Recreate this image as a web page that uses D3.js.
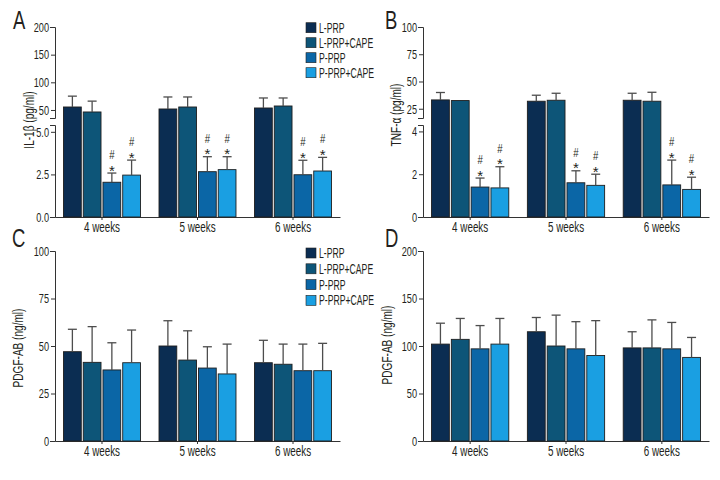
<!DOCTYPE html>
<html><head><meta charset="utf-8">
<script src="https://cdn.jsdelivr.net/npm/d3@7"></script>
<style>
body{margin:0;background:#fff;}
svg{display:block;font-family:"Liberation Sans",Arial,sans-serif;}
</style></head><body>
<svg id="chart" width="720" height="480"></svg>
<script>
const categories = ["4 weeks","5 weeks","6 weeks"];
const seriesNames = ["L-PRP","L-PRP+CAPE","P-PRP","P-PRP+CAPE"];
const seriesColors = ["#0b2d52","#0d5578","#0b66a6","#1a9fe2"];

// Panel A: IL-1β (pg/ml)
const il1bMean = [[55.4,51.8,53.6],[46.4,55.4,57.2],[2.04,2.66,2.48],[2.46,2.78,2.70]];
const il1bSD   = [[19.6,21.7,18.1],[19.6,18.1,14.5],[0.54,0.88,0.85],[0.88,0.76,0.80]];
const il1bTicksLow = [0,2.5,5];
const il1bTicksHigh = [50,100,150,200];
const il1bBreak = [5.4,35.5,200];

// Panel B: TNF-α (pg/ml)
const tnfMean = [[33.1,31.9,32.8],[32.5,32.8,31.9],[1.40,1.60,1.50],[1.36,1.48,1.29]];
const tnfSD   = [[6.8,5.5,6.4],[0,6.4,8.2],[0.42,0.56,1.16],[0.99,0.52,0.57]];
const tnfTicksLow = [0,2,4];
const tnfTicksHigh = [25,50,75,100];
const tnfBreak = [4.3,16.5,100];

// Panel C: PDGF-AB (ng/ml)
const pdgfCMean = [[47,50,41.2],[41.4,42.6,40.4],[37.4,38.4,37],[41.2,35.3,37]];
const pdgfCSD   = [[11.8,13.3,11.8],[18.8,15.4,10.6],[14.3,11.2,14],[17.2,15.7,14.4]];
const pdgfCTicks = [0,25,50,75,100];

// Panel D: PDGF-AB (ng/ml)
const pdgfDMean = [[102,115,98],[107,100,98],[97,97,97],[102,90,88]];
const pdgfDSD   = [[22,15,17],[22,32.5,29.5],[24.5,28.6,27.8],[27,36.7,21]];
const pdgfDTicks = [0,50,100,150,200];

// significance marks (series index -> marks above error bar)
const sigSeries = [2,3];
const sigMarks = ["*","#"];

const svg = d3.select("#chart");
const TXT = "#231f20", AX = "#333";

function condense(sel, sx){
  sel.each(function(){
    const t = d3.select(this);
    const x = +t.attr("x") || 0;
    t.attr("x", x/sx);
    const prev = t.attr("transform") || "";
    t.attr("transform", (prev ? prev+" " : "") + `scale(${sx},1)`);
  });
}

function drawPanel(p){
  const g = svg.append("g");
  const x0 = d3.scaleBand().domain(categories).range([p.x0,p.x1]).paddingInner(0.194).paddingOuter(0.089);
  const x1 = d3.scaleBand().domain(seriesNames).range([0,x0.bandwidth()]).paddingInner(0.1);

  let y;
  if(p.brk){
    y = d3.scaleLinear().domain([0,p.brk[0],p.brk[1],p.brk[2]]).range([p.yb,p.yb-92,p.yb-99,p.yt]);
    const yLow = d3.scaleLinear().domain([0,p.brk[0]]).range([y(0),y(p.brk[0])]);
    const yHigh = d3.scaleLinear().domain([p.brk[1],p.brk[2]]).range([y(p.brk[1]),y(p.brk[2])]);
    [[yLow,p.ticksLow],[yHigh,p.ticksHigh]].forEach(([s,t])=>{
      const ax = g.append("g").attr("transform",`translate(${p.x0},0)`)
        .call(d3.axisLeft(s).tickValues(t).tickFormat(p.fmt).tickSize(4).tickSizeOuter(5).tickPadding(2));
      styleAxis(ax, 13.5, 0.68);
    });
  } else {
    y = d3.scaleLinear().domain([0,p.max]).range([p.yb,p.yt]);
    const ax = g.append("g").attr("transform",`translate(${p.x0},0)`)
      .call(d3.axisLeft(y).tickValues(p.ticks).tickFormat(d3.format("d")).tickSize(4).tickSizeOuter(5).tickPadding(2));
    styleAxis(ax, 13.5, 0.68);
  }
  const xa = g.append("g").attr("transform",`translate(0,${p.yb})`)
    .call(d3.axisBottom(x0).tickSize(3).tickSizeOuter(0).tickPadding(2));
  styleAxis(xa, 14.5, 0.68);

  seriesNames.forEach((s,si)=>{
    categories.forEach((c,ci)=>{
      const v = p.mean[si][ci], sd = p.sd[si][ci];
      const bx = x0(c)+x1(s), bw = x1.bandwidth(), cx = bx+bw/2;
      g.append("rect").attr("x",bx).attr("y",y(v)).attr("width",bw).attr("height",y(0)-y(v))
        .attr("fill",seriesColors[si]).attr("stroke","#1e1e1e").attr("stroke-width",0.9);
      if(sd>0){
        const top = y(v+sd);
        g.append("line").attr("x1",cx).attr("x2",cx).attr("y1",y(v)).attr("y2",top)
          .attr("stroke","#4d4d4d").attr("stroke-width",1.3);
        g.append("line").attr("x1",cx-4.5).attr("x2",cx+4.5).attr("y1",top).attr("y2",top)
          .attr("stroke","#4d4d4d").attr("stroke-width",1.3);
      }
      if(p.sig && sigSeries.includes(si)){
        const top = y(v+sd);
        g.append("text").attr("x",cx).attr("y",top+2.5).attr("text-anchor","middle")
          .attr("font-size",15).attr("fill",TXT).text(sigMarks[0]);
        g.append("text").attr("x",cx).attr("y",top-14).attr("text-anchor","middle")
          .attr("font-size",12).attr("fill",TXT).text(sigMarks[1]).call(condense,0.8);
      }
    });
  });

  g.append("text").attr("transform",`translate(${p.titleX},${p.titleY}) rotate(-90)`)
    .attr("text-anchor","middle").attr("dy","0.35em").attr("font-size",14).attr("fill",TXT)
    .text(p.title).call(condense,0.72);
  g.append("text").attr("x",p.letterX).attr("y",p.letterY).attr("font-size",25).attr("fill",TXT)
    .text(p.letter).call(condense,0.74);

  if(p.legend){
    seriesNames.forEach((s,si)=>{
      const cy = p.legend.y + si*p.legend.dy;
      g.append("rect").attr("x",p.legend.x).attr("y",cy-5).attr("width",10).attr("height",10)
        .attr("fill",seriesColors[si]).attr("stroke","#1e1e1e").attr("stroke-width",0.6);
      g.append("text").attr("x",p.legend.x+13).attr("y",cy).attr("dy","0.36em")
        .attr("font-size",14).attr("fill",TXT).text(s).call(condense,0.62);
    });
  }
}

function styleAxis(ax, fs, sx){
  ax.select(".domain").attr("stroke",AX).attr("stroke-width",1);
  ax.selectAll(".tick line").attr("stroke",AX).attr("stroke-width",1);
  ax.selectAll("text").attr("fill",TXT).attr("font-size",fs).attr("font-family",null).call(condense,sx);
}

drawPanel({x0:55,x1:340,yb:217,yt:27,brk:il1bBreak,ticksLow:il1bTicksLow,ticksHigh:il1bTicksHigh,
  fmt:d=>d<10?d3.format(".1f")(d):d3.format("d")(d),
  mean:il1bMean,sd:il1bSD,sig:true,title:"IL-1β (pg/ml)",titleX:29,titleY:120,
  letter:"A",letterX:13,letterY:29,legend:{x:306,y:27.7,dy:15}});
drawPanel({x0:423,x1:709,yb:217,yt:27,brk:tnfBreak,ticksLow:tnfTicksLow,ticksHigh:tnfTicksHigh,
  fmt:d3.format("d"),
  mean:tnfMean,sd:tnfSD,sig:true,title:"TNF-α (pg/ml)",titleX:396,titleY:115,
  letter:"B",letterX:385,letterY:29});
drawPanel({x0:55,x1:340,yb:441,yt:251,max:100,ticks:pdgfCTicks,
  mean:pdgfCMean,sd:pdgfCSD,title:"PDGF-AB (ng/ml)",titleX:18,titleY:348,
  letter:"C",letterX:12,letterY:247,legend:{x:306,y:253,dy:15.8}});
drawPanel({x0:423,x1:709,yb:441,yt:251,max:200,ticks:pdgfDTicks,
  mean:pdgfDMean,sd:pdgfDSD,title:"PDGF-AB (ng/ml)",titleX:387,titleY:345,
  letter:"D",letterX:385,letterY:247});
</script>
</body></html>
